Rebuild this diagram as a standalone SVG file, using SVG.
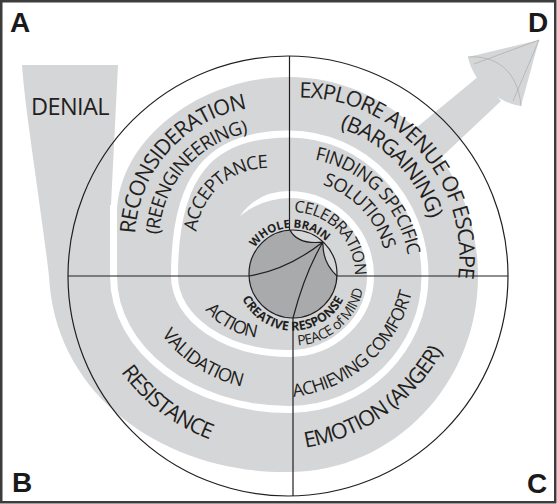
<svg xmlns="http://www.w3.org/2000/svg" width="557" height="504" viewBox="0 0 557 504">
<style>
.band{fill:#d5d6d8}
.gap{fill:none;stroke:#fff;stroke-width:7}
.ln{fill:none;stroke:#231f20;stroke-width:1.2}
.t{font-family:"Open Sans","Noto Sans","Liberation Sans",sans-serif;fill:#231f20}
.b{font-family:"Open Sans","Noto Sans","Liberation Sans",sans-serif;font-weight:bold;fill:#231f20}
.L{font-family:"Liberation Sans",Arial,sans-serif;font-weight:bold;font-size:28px;fill:#1a1a1a}
.cone{fill:none;stroke:#b0b1b3;stroke-width:0.8}
</style>
<defs>
<path id="pRecon" d="M163.8,322.6 A133,133 0 0 1 337.7,126.7"/>
<path id="pReeng" d="M183.3,308.6 A109,109 0 0 1 324.1,146.6"/>
<path id="pAccept" d="M206.9,278.2 A72,72 0 0 1 312.3,183.3"/>
<path id="pExplore" d="M217,121 A159.3,159.3 0 0 1 424.5,356.4"/>
<path id="pBarg" d="M223.1,146.3 A134.8,134.8 0 0 1 410.1,334.7"/>
<path id="pFind" d="M227.2,177.9 A116.5,116.5 0 0 1 387.7,341.8"/>
<path id="pSol" d="M241.1,195.6 A94,94 0 0 1 368.6,329.9"/>
<path id="pCeleb" d="M258.4,222.8 A61.8,61.8 0 0 1 343.1,310.2"/>
<path id="pWhole" d="M246.7,269.9 A46.5,46.5 0 0 1 337.9,262"/>
<path id="pCreat" d="M237.3,283.3 A56.5,56.5 0 0 0 348.6,284.3"/>
<path id="pPeace" d="M247.5,329.3 A71.6,71.6 0 0 0 354.7,237.6"/>
<path id="pAchieve" d="M190.2,367.4 A138.9,138.9 0 0 0 395.7,186.8"/>
<path id="pEmotion" d="M138.8,394.1 A192.2,192.2 0 0 0 448.6,176.5"/>
<path id="pResist" d="M105.9,170.3 A192.7,192.7 0 0 0 407.4,400.8"/>
<path id="pValid" d="M145.1,197.9 A138,138 0 0 0 372.8,346.3"/>
<path id="pAction" d="M191.2,235.2 A77.9,77.9 0 0 0 325.9,308.6"/>
</defs>
<rect width="557" height="504" fill="#fff"/>
<rect x="1.25" y="1.25" width="554" height="501" fill="none" stroke="#3c3c3c" stroke-width="2.5"/>

<g id="spiral">
<path class="band" d="M22,65 L118,65 L110.5,215 L117,215 C117,140 200,77 289,77 C393.3,77 478,166.2 478,276 C478,384.2 393.3,472 289,472 C170,474 55,400 49,276 C40,200 25,110 22,65 Z"/>
<path class="gap" d="M113.5,205 L113.5,276 C113.5,349.7 192.1,409.5 289,409.5 C364.1,409.5 425,349.7 425,276 C425,197.6 364.1,134 289,134 C208.9,134 174.5,176.6 174.5,276 C174.5,318.8 225.8,353.5 289,353.5 C334,353.5 370.5,318.8 370.5,276 C370.5,231 334,194.5 289,194.5"/>
<path fill="#fff" d="M289,191 Q258,191 240,216 Q262,198.5 289,198 Z"/>
</g>

<g id="arrow-D">
<path class="band" d="M405,137 L479,76 L501,101 L432,166 Z"/>
<path class="band" d="M468,57 L539,40 L521,106 C505,104 486,92 477,78 C472,70 469,63 468,57 Z"/>
<path class="cone" d="M468,57 C495,55 518,70 521,106 M474,64 L539,40 M513,101 L539,40"/>
</g>

<g id="connectors">
<circle class="ln" cx="288" cy="276" r="220"/>
<path class="ln" d="M289.5,56 V230 M293,318 V496 M68,276 H249 M337,276 H508"/>
</g>

<g id="core">
<circle cx="293" cy="274" r="44" fill="#a9aaac"/>
<path class="band" d="M290,230.1 A44,44 0 0 1 323,242 Q298,245 290,230.1 Z"/>
<path class="band" d="M323,242 A44,44 0 0 1 336.95,276 Q322,262 323,242 Z"/>
<path class="ln" d="M290,230.1 Q298,245 323,242 M249,276 Q287,270 323,242 M293,318 Q305,272 323,242 M323,242 Q322,262 336.95,276"/>
<circle class="ln" cx="293" cy="274" r="44"/>
</g>

<g id="texts">
<text class="t" x="31" y="115" font-size="23.5" letter-spacing="-0.6">DENIAL</text>
<text class="t" font-size="21.6" letter-spacing="-1"><textPath href="#pRecon" startOffset="50%" text-anchor="middle">RECONSIDERATION</textPath></text>
<text class="t" font-size="18.9" letter-spacing="-0.84"><textPath href="#pReeng" startOffset="50%" text-anchor="middle">(REENGINEERING)</textPath></text>
<text class="t" font-size="18.4" letter-spacing="-0.94"><textPath href="#pAccept" startOffset="50%" text-anchor="middle">ACCEPTANCE</textPath></text>
<text class="t" font-size="21.6" letter-spacing="-0.95"><textPath href="#pExplore" startOffset="50%" text-anchor="middle">EXPLORE AVENUE OF ESCAPE</textPath></text>
<text class="t" font-size="21.6" letter-spacing="-0.97"><textPath href="#pBarg" startOffset="50%" text-anchor="middle">(BARGAINING)</textPath></text>
<text class="t" font-size="18.4" letter-spacing="-0.76"><textPath href="#pFind" startOffset="50%" text-anchor="middle">FINDING SPECIFIC</textPath></text>
<text class="t" font-size="18.4" letter-spacing="-0.94"><textPath href="#pSol" startOffset="50%" text-anchor="middle">SOLUTIONS</textPath></text>
<text class="t" font-size="16.2" letter-spacing="-0.79"><textPath href="#pCeleb" startOffset="50%" text-anchor="middle">CELEBRATION</textPath></text>
<text class="b" font-size="11.5"><textPath href="#pWhole" startOffset="50%" text-anchor="middle">WHOLE BRAIN</textPath></text>
<text class="b" font-size="12.5"><textPath href="#pCreat" startOffset="50%" text-anchor="middle">CREATIVE RESPONSE</textPath></text>
<text class="t" font-size="14" letter-spacing="-0.62"><textPath href="#pPeace" startOffset="50%" text-anchor="middle">PEACE of MIND</textPath></text>
<text class="t" font-size="17.8" letter-spacing="-0.87"><textPath href="#pAchieve" startOffset="50%" text-anchor="middle">ACHIEVING COMFORT</textPath></text>
<text class="t" font-size="21.6" letter-spacing="-1.03"><textPath href="#pEmotion" startOffset="50%" text-anchor="middle">EMOTION (ANGER)</textPath></text>
<text class="t" font-size="21.6" letter-spacing="-1.01"><textPath href="#pResist" startOffset="50%" text-anchor="middle">RESISTANCE</textPath></text>
<text class="t" font-size="18.4" letter-spacing="-0.87"><textPath href="#pValid" startOffset="50%" text-anchor="middle">VALIDATION</textPath></text>
<text class="t" font-size="17.8" letter-spacing="-0.96"><textPath href="#pAction" startOffset="50%" text-anchor="middle">ACTION</textPath></text>
</g>

<g id="corner-labels">
<text class="L" x="10" y="32">A</text>
<text class="L" x="12" y="492">B</text>
<text class="L" x="527" y="493">C</text>
<text class="L" x="528" y="32">D</text>
</g>
</svg>
